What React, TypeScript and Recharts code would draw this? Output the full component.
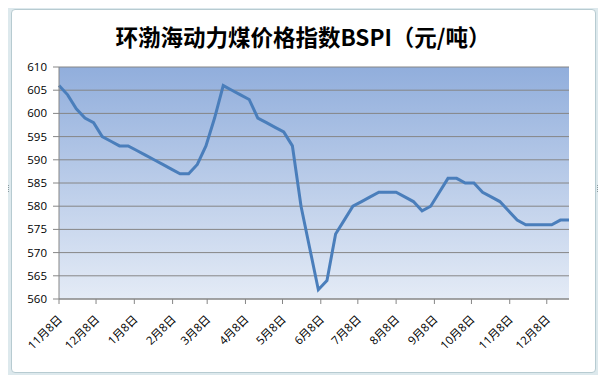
import { LineChart, Line, XAxis, YAxis, CartesianGrid } from "recharts";

// weekly points, days counted from 11月8日
const days = [
  0, 7, 14, 21, 28, 35, 42, 49, 56, 63, 70, 77, 84, 91, 98, 105, 112, 119, 126, 133,
  140, 147, 154, 161, 168, 175, 182, 189, 196, 203, 210, 217, 224, 231, 238, 245, 252, 259, 266, 273,
  280, 287, 294, 301, 308, 315, 322, 329, 336, 343, 350, 357, 364, 371, 378, 385, 392, 399, 406, 413,
];
const bspi = [
  606, 604, 601, 599, 598, 595, 594, 593, 593, 592, 591, 590, 589, 588, 587, 587, 589, 593, 599, 606,
  605, 604, 603, 599, 598, 597, 596, 593, 580, 571, 562, 564, 574, 577, 580, 581, 582, 583, 583, 583,
  582, 581, 579, 580, 583, 586, 586, 585, 585, 583, 582, 581, 579, 577, 576, 576, 576, 576, 577, 577,
];
const monthDays = [0, 30, 61, 92, 120, 151, 181, 212, 242, 273, 304, 334, 365, 395];
const monthLabels = [
  "11月8日", "12月8日", "1月8日", "2月8日", "3月8日", "4月8日", "5月8日",
  "6月8日", "7月8日", "8月8日", "9月8日", "10月8日", "11月8日", "12月8日",
];
const yTicks = [560, 565, 570, 575, 580, 585, 590, 595, 600, 605, 610];

const data = days.map((d, i) => ({ day: d, value: bspi[i] }));

const font = "'Open Sans', 'Noto Sans CJK SC', sans-serif";
const axisGray = "#868686";

const XTick = ({ x, y, payload }: any) => {
  const idx = monthDays.indexOf(payload.value);
  return (
    <text
      transform={`translate(${x + 4},${y + 14}) rotate(-45)`}
      textAnchor="end"
      fontSize={11.5}
      fontFamily={font}
      fill="#000"
    >
      {monthLabels[idx]}
    </text>
  );
};

// little selection handles on the chart frame
const Handle = ({ left, top, vertical }: { left: number; top: number; vertical?: boolean }) => (
  <div style={{ position: "absolute", left, top, display: "flex", flexDirection: vertical ? "column" : "row", gap: 1 }}>
    {[0, 1, 2, 3].map((k) => (
      <div key={k} style={{ width: 1, height: 1, background: "#8a9ba0" }} />
    ))}
  </div>
);

export default function App() {
  return (
    <div style={{ position: "relative", width: 606, height: 383, margin: -8, background: "#fff" }}>
      <div
        style={{
          position: "absolute", left: 6, top: 4, width: 593, height: 372,
          border: "1px solid #a9c0c7", background: "#dde9ed", borderRadius: 6,
        }}
      >
        <div
          style={{
            position: "absolute", left: 4, top: 4, right: 4, bottom: 4,
            border: "1px solid #b7cbd1", background: "#fff", borderRadius: 4,
          }}
        />
      </div>
      <Handle left={297} top={6} />
      <Handle left={297} top={376} />
      <Handle left={8} top={185} vertical />
      <Handle left={597} top={185} vertical />
      <Handle left={9} top={7} />
      <Handle left={591} top={7} />
      <Handle left={9} top={375} />
      <Handle left={591} top={375} />
      <div
        style={{
          position: "absolute", left: 0, top: 21, width: 606, textAlign: "center",
          fontFamily: "'Noto Sans CJK SC', sans-serif", fontWeight: 700, fontSize: 22.5, color: "#000",
          lineHeight: "30px",
        }}
      >
        环渤海动力煤价格指数BSPI（元/吨）
      </div>
      <div style={{ position: "absolute", left: 0, top: 0 }}>
        <LineChart width={606} height={383} data={data} margin={{ top: 67, right: 37, left: 0, bottom: 24 }}>
          <defs>
            <linearGradient id="plotBg" x1="0" y1="0" x2="0" y2="1">
              <stop offset="0%" stopColor="#91aedc" />
              <stop offset="100%" stopColor="#e4ebf6" />
            </linearGradient>
          </defs>
          <CartesianGrid vertical={false} stroke={axisGray} fill="url(#plotBg)" fillOpacity={1} />
          <XAxis
            dataKey="day"
            type="number"
            domain={[0, 413]}
            ticks={monthDays}
            interval={0}
            height={60}
            tick={<XTick />}
            tickSize={5}
            stroke={axisGray}
          />
          <YAxis
            domain={[560, 610]}
            ticks={yTicks}
            interval={0}
            width={59}
            tickSize={6}
            tickMargin={6}
            stroke={axisGray}
            tick={{ fill: "#000", fontSize: 11.5, fontFamily: font }}
          />
          <Line
            dataKey="value"
            type="linear"
            stroke="#4a7ebb"
            strokeWidth={3}
            dot={false}
            isAnimationActive={false}
          />
        </LineChart>
      </div>
    </div>
  );
}
